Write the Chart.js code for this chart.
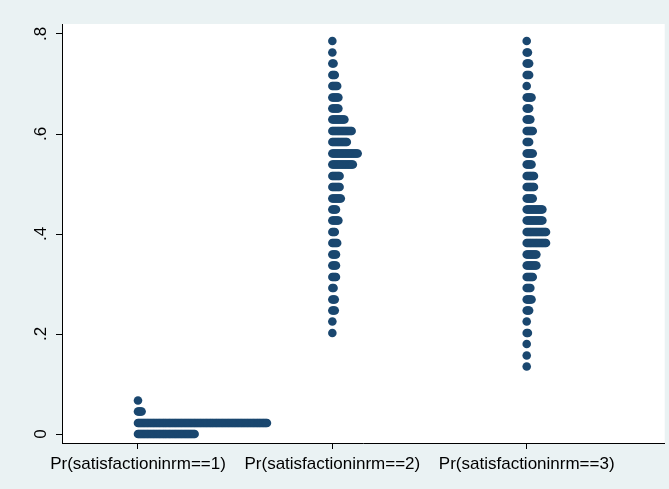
<!DOCTYPE html>
<html>
<head>
<meta charset="utf-8">
<script src="https://cdn.jsdelivr.net/npm/chart.js@4.4.0/dist/chart.umd.min.js"></script>
<style>
  html, body { margin: 0; padding: 0; background: #eaf2f3; }
  #wrap { width: 669px; height: 489px; }
  canvas { display: block; }
</style>
</head>
<body>
<div id="wrap"><canvas id="c" width="669" height="489"></canvas></div>
<script>
// Variables shown along the x axis
const categories = ['Pr(satisfactioninrm==1)', 'Pr(satisfactioninrm==2)', 'Pr(satisfactioninrm==3)'];

// Dot-plot bins: bin midpoint (predicted probability) and number of observations in the bin
const levels1 = [0.000, 0.022, 0.045, 0.067];
const counts1 = [48, 108, 4, 1];

const levels2 = [0.202, 0.225, 0.247, 0.269, 0.292, 0.314, 0.337, 0.359, 0.382, 0.404,
                 0.427, 0.449, 0.471, 0.494, 0.516, 0.539, 0.561, 0.584, 0.606, 0.629,
                 0.651, 0.673, 0.696, 0.718, 0.741, 0.763, 0.786];
const counts2 = [1, 1, 3, 3, 2, 4, 4, 4, 5, 3,
                 6, 4, 8, 7, 7, 18, 22, 13, 17, 11,
                 6, 6, 5, 3, 2, 1, 1];

const levels3 = [0.135, 0.157, 0.180, 0.202, 0.225, 0.247, 0.269, 0.292, 0.314, 0.337,
                 0.359, 0.382, 0.404, 0.427, 0.449, 0.471, 0.494, 0.516, 0.539, 0.561,
                 0.584, 0.606, 0.629, 0.651, 0.673, 0.696, 0.718, 0.741, 0.763, 0.786];
const counts3 = [1, 1, 1, 2, 1, 3, 5, 4, 6, 9,
                 9, 17, 17, 14, 14, 6, 7, 7, 5, 6,
                 3, 6, 4, 3, 5, 1, 3, 3, 2, 1];

// y-axis ticks and their labels
const yTicks = [0, 0.2, 0.4, 0.6, 0.8];
const yTickLabels = ['0', '.2', '.4', '.6', '.8'];

// Horizontal offset between stacked dots within a bin (x-axis units)
const DOT_STEP = 0.0062;
const DOT_COLOR = '#1a476f';
const FONT = "'Liberation Sans', Arial, Helvetica, sans-serif";

function stackDots(pos, levels, counts) {
  const pts = [];
  levels.forEach((lv, i) => {
    for (let k = 0; k < counts[i]; k++) {
      pts.push({ x: pos + k * DOT_STEP, y: lv });
    }
  });
  return pts;
}

const series = [[levels1, counts1], [levels2, counts2], [levels3, counts3]];
const datasets = series.map(([lv, ct], i) => ({
  label: categories[i],
  data: stackDots(i + 1, lv, ct),
  pointRadius: 4.3,
  pointHoverRadius: 4.3,
  pointBorderWidth: 0,
  pointBackgroundColor: DOT_COLOR,
  pointBorderColor: DOT_COLOR,
  showLine: false
}));

// Light blue-grey graph region with a white plot region
const backgroundPlugin = {
  id: 'regions',
  beforeDraw(chart) {
    const { ctx, chartArea: a } = chart;
    ctx.save();
    ctx.fillStyle = '#eaf2f3';
    ctx.fillRect(0, 0, chart.width, chart.height);
    ctx.fillStyle = '#ffffff';
    ctx.fillRect(a.left, a.top, a.right - a.left, a.bottom - a.top);
    ctx.restore();
  }
};

// Vertical (rotated) y tick labels
const yLabelPlugin = {
  id: 'yLabels',
  afterDraw(chart) {
    const { ctx } = chart;
    const ys = chart.scales.y;
    ctx.save();
    ctx.fillStyle = '#000000';
    ctx.font = '17px ' + FONT;
    ctx.textAlign = 'center';
    ctx.textBaseline = 'middle';
    yTicks.forEach((v, i) => {
      const py = ys.getPixelForValue(v);
      ctx.save();
      ctx.translate(41, py);
      ctx.rotate(-Math.PI / 2);
      ctx.fillText(yTickLabels[i], 0, 0);
      ctx.restore();
    });
    ctx.restore();
  }
};

new Chart(document.getElementById('c'), {
  type: 'scatter',
  data: { datasets },
  plugins: [backgroundPlugin, yLabelPlugin],
  options: {
    responsive: false,
    animation: false,
    events: [],
    layout: { padding: { top: 24, right: 4, left: 0, bottom: 0 } },
    plugins: { legend: { display: false }, tooltip: { enabled: false } },
    scales: {
      x: {
        type: 'linear',
        min: 0.609,
        max: 3.71,
        afterBuildTicks(scale) { scale.ticks = [1, 2, 3].map(v => ({ value: v })); },
        afterFit(scale) { scale.height = 46; },
        ticks: {
          autoSkip: false,
          maxRotation: 0,
          minRotation: 0,
          padding: 5,
          color: '#000000',
          font: { family: FONT, size: 17 },
          callback: (v) => categories[Math.round(v) - 1] || ''
        },
        grid: { drawOnChartArea: false, drawTicks: true, tickLength: 6, color: '#000000', lineWidth: 1 },
        border: { display: true, color: '#000000', width: 1 }
      },
      y: {
        type: 'linear',
        min: -0.018,
        max: 0.82,
        afterBuildTicks(scale) { scale.ticks = yTicks.map(v => ({ value: v })); },
        afterFit(scale) { scale.width = 62; },
        ticks: { display: true, callback: () => '', padding: 0 },
        grid: { drawOnChartArea: false, drawTicks: true, tickLength: 6, color: '#000000', lineWidth: 1 },
        border: { display: true, color: '#000000', width: 1 }
      }
    }
  }
});
</script>
</body>
</html>
